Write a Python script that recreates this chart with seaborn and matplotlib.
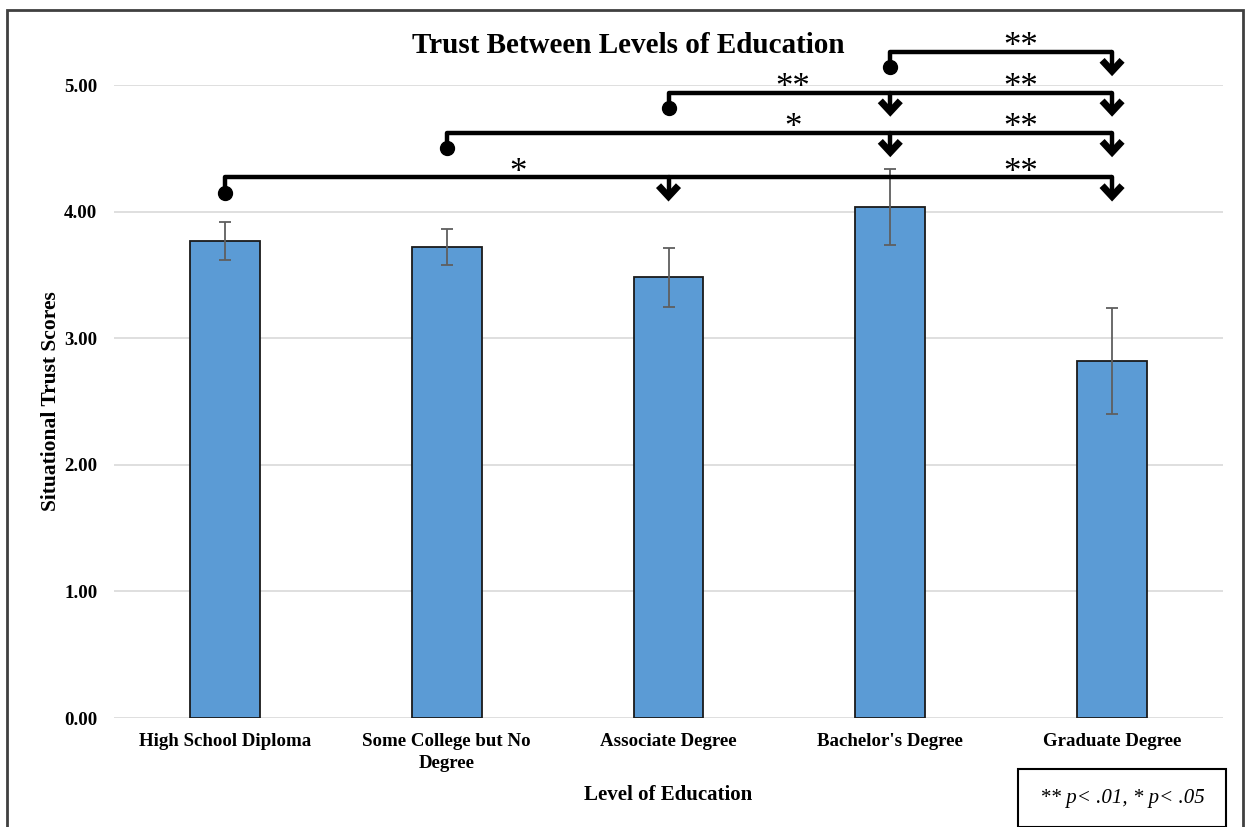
import matplotlib
matplotlib.use("Agg")
import matplotlib.pyplot as plt
from matplotlib.patches import Rectangle
import seaborn as sns
import pandas as pd

# Mean situational trust score and error half-width per education level
levels = ["High School Diploma", "Some College but No\nDegree", "Associate Degree",
          "Bachelor's Degree", "Graduate Degree"]
means = [3.77, 3.72, 3.48, 4.04, 2.82]
errors = [0.15, 0.14, 0.235, 0.30, 0.42]

# Significant pairwise comparisons: (from level, [to levels], [labels])
comparisons = [
    (0, [2, 4], ["*", "**"]),
    (1, [3, 4], ["*", "**"]),
    (2, [3, 4], ["**", "**"]),
    (3, [4], ["**"]),
]
bracket_heights = [4.27, 4.62, 4.94, 5.26]
star_x = {2: 1.32, 3: 2.56, 4: 3.59}

sns.set_theme(style="white")
plt.rcParams["font.family"] = ["Liberation Serif", "DejaVu Serif"]
plt.rcParams.update({"text.color": "black", "axes.labelcolor": "black",
                     "xtick.color": "black", "ytick.color": "black"})

fig = plt.figure(figsize=(12.45, 8.27), dpi=100)
ax = fig.add_axes([0.0916, 0.1318, 0.8907, 0.7654])

df = pd.DataFrame({"level": levels, "mean": means})
sns.barplot(data=df, x="level", y="mean", color="#5B9BD5", saturation=1,
            width=0.315, edgecolor="#1a1a1a", linewidth=1.3, ax=ax, zorder=3)
ax.errorbar(range(len(levels)), means, yerr=errors, fmt="none",
            ecolor="#5f5f5f", elinewidth=1.3, capsize=4, capthick=1.3, zorder=4)

ax.set_ylim(0, 5)
ax.set_xlim(-0.5, len(levels) - 0.5)
ax.set_yticks([0, 1, 2, 3, 4, 5])
ax.set_yticklabels([f"{v:.2f}" for v in [0, 1, 2, 3, 4, 5]])
ax.yaxis.grid(True, color="#d9d9d9", linewidth=1.2, zorder=0)
ax.xaxis.grid(False)
for s in ax.spines.values():
    s.set_visible(False)
ax.tick_params(axis="both", length=0, labelsize=13.6, labelcolor="black")
ax.tick_params(axis="y", pad=12)
ax.tick_params(axis="x", pad=11)
for lab in ax.get_xticklabels() + ax.get_yticklabels():
    lab.set_fontweight("bold")
    lab.set_linespacing(1.4)

ax.set_xlabel("Level of Education", fontsize=15, fontweight="bold", color="black")
ax.xaxis.set_label_coords(0.5, -0.106)
ax.set_ylabel("Situational Trust Scores", fontsize=15.5, fontweight="bold", color="black")
ax.yaxis.set_label_coords(-0.048, 0.5)

fig.text(0.505, 0.945, "Trust Between Levels of Education", ha="center", va="center",
         fontsize=21, fontweight="bold", color="black")

# Significance brackets: dot at the reference group, chevrons at compared groups
lw = 3.2
for (src, targets, labels), h in zip(comparisons, bracket_heights):
    right = max(targets)
    ax.plot([src, src, right], [h - 0.09, h, h], color="black", lw=lw,
            solid_joinstyle="round", solid_capstyle="butt", clip_on=False, zorder=5)
    ax.plot([src], [h - 0.12], marker="o", markersize=10, color="black",
            clip_on=False, zorder=5)
    for t, lab in zip(targets, labels):
        ax.plot([t, t], [h, h - 0.12], color="black", lw=lw, clip_on=False, zorder=5)
        ax.plot([t - 0.045, t, t + 0.045], [h - 0.065, h - 0.15, h - 0.065],
                color="black", lw=5, solid_joinstyle="miter", solid_capstyle="butt",
                clip_on=False, zorder=5)
        ax.text(star_x[t], h + 0.035, lab, ha="center", va="center",
                fontsize=25, color="black", clip_on=False, zorder=5)

# Significance key box
fig.patches.append(Rectangle((1018 / 1245, 0), 208 / 1245, 58 / 827,
                             transform=fig.transFigure, fill=False,
                             edgecolor="black", linewidth=1.5))
fig.text(1122 / 1245, 1 - 799 / 827, "** p< .01, * p< .05", ha="center", va="center",
         fontsize=15, style="italic", color="black")

# Outer chart border
fig.patches.append(Rectangle((7 / 1245, -0.1), 1236 / 1245, 1.1 - 10 / 827,
                             transform=fig.transFigure, fill=False,
                             edgecolor="#404040", linewidth=2))

fig.savefig("out.png", dpi=100, facecolor="white")
